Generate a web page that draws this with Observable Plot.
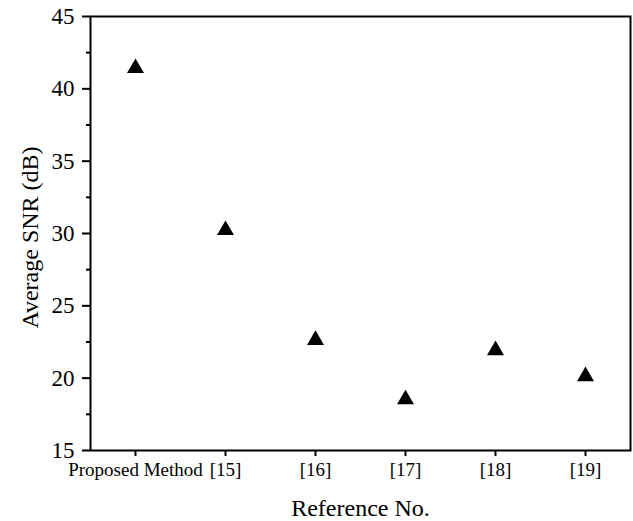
<!DOCTYPE html>
<html>
<head>
<meta charset="utf-8">
<script src="https://cdn.jsdelivr.net/npm/d3@7"></script>
<script src="https://cdn.jsdelivr.net/npm/@observablehq/plot@0.6"></script>
<style>
  html, body { margin: 0; padding: 0; background: #fff; }
</style>
</head>
<body>
<div id="chart"></div>
<script>
const categories = ["Proposed Method", "[15]", "[16]", "[17]", "[18]", "[19]"];
const snrValues = [41.6, 30.4, 22.8, 18.7, 22.1, 20.3];
const majorTicks = [15, 20, 25, 30, 35, 40, 45];
const minorTicks = [17.5, 22.5, 27.5, 32.5, 37.5, 42.5];
const xTitle = ["Reference No."];
const yTitle = ["Average SNR (dB)"];

const data = categories.map((c, i) => ({ ref: c, snr: snrValues[i] }));
const font = "'Liberation Serif', 'Times New Roman', serif";

const chart = Plot.plot({
  width: 633,
  height: 521,
  marginLeft: 90,
  marginRight: 3,
  marginTop: 16,
  marginBottom: 71,
  style: { fontFamily: font, color: "black", background: "white" },
  x: { type: "point", domain: categories, padding: 0.5 },
  y: { domain: [15, 45] },
  marks: [
    Plot.axisY({
      ticks: minorTicks, tickSize: 4, text: null, label: null, strokeWidth: 2
    }),
    Plot.axisY({
      ticks: majorTicks, tickSize: 8, tickPadding: 8, tickFormat: d3.format("d"),
      fontSize: 23, fontFamily: font, strokeWidth: 2, label: null
    }),
    Plot.axisX({
      tickSize: 6, tickPadding: 6, fontSize: 19, fontFamily: font, strokeWidth: 2, label: null
    }),
    Plot.frame({ stroke: "black", strokeWidth: 2 }),
    Plot.text(xTitle, {
      text: d => d, frameAnchor: "bottom", textAnchor: "middle", lineAnchor: "middle",
      dy: 58, fontSize: 24, fontFamily: font, fill: "black"
    }),
    Plot.text(yTitle, {
      text: d => d, frameAnchor: "left", textAnchor: "middle", lineAnchor: "middle",
      dx: -60, dy: 4, rotate: -90, fontSize: 24, fontFamily: font, fill: "black"
    }),
    Plot.dot(data, {
      x: "ref", y: "snr", symbol: "triangle", r: 6.3, fill: "black", stroke: "none", dy: 2.5
    })
  ]
});

document.getElementById("chart").appendChild(chart);
</script>
</body>
</html>
